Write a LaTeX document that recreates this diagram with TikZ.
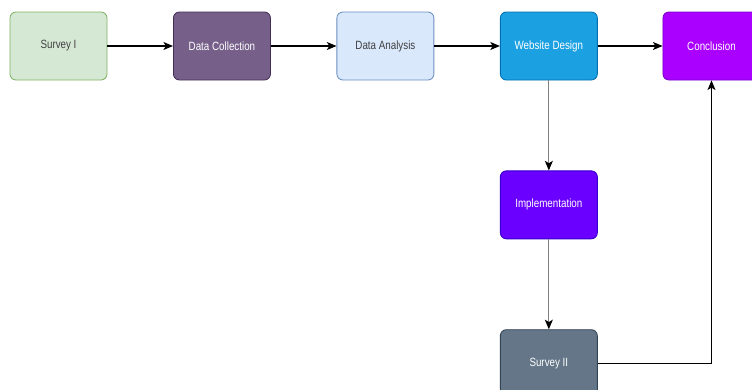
\documentclass[tikz,border=0pt]{standalone}
\usepackage{fontspec}
\setmainfont[FakeStretch=0.82]{Liberation Sans}
\usepackage{xcolor}
\usepackage{tikz}
\usetikzlibrary{shapes.geometric, arrows.meta, positioning, calc}
\definecolor{greenfill}{HTML}{D5E8D4}
\definecolor{greenline}{HTML}{82B366}
\definecolor{purplefill}{HTML}{76608A}
\definecolor{purpleline}{HTML}{432D57}
\definecolor{bluefill}{HTML}{DAE8FC}
\definecolor{blueline}{HTML}{6C8EBF}
\definecolor{cyanfill}{HTML}{1BA1E2}
\definecolor{cyanline}{HTML}{006EAF}
\definecolor{violetfill}{HTML}{AA00FF}
\definecolor{violetline}{HTML}{7700CC}
\definecolor{indigofill}{HTML}{6A00FF}
\definecolor{indigoline}{HTML}{3700CC}
\definecolor{slatefill}{HTML}{647687}
\definecolor{slateline}{HTML}{314354}
\tikzstyle{stage} = [rectangle, rounded corners=0.15cm, minimum width=2.425cm, minimum height=1.7cm, text centered, font=\fontsize{8.5}{10}\selectfont, line width=0.6pt]
\tikzstyle{arrow} = [line width=0.8pt, -{Stealth[length=2.4mm, width=2mm, inset=0.6mm, black]}]

\begin{document}
\begin{tikzpicture}
    \useasboundingbox (0,0) rectangle (18.8,-9.725);
    % Main row
    \node[stage, draw=greenline, fill=greenfill, text=black!75] (survey1) at (1.4625,-1.15) {Survey I};
    \node[stage, draw=purpleline, fill=purplefill, text=white, right=1.64cm of survey1] (collection) {Data Collection};
    \node[stage, draw=blueline, fill=bluefill, text=black!75, right=1.64cm of collection] (analysis) {Data Analysis};
    \node[stage, draw=cyanline, fill=cyanfill, text=white, right=1.64cm of analysis] (design) {Website Design};
    \node[stage, draw=violetline, fill=violetfill, text=white, right=1.62cm of design] (conclusion) {Conclusion};
    
    % Lower column
    \node[stage, draw=indigoline, fill=indigofill, text=white, below=2.25cm of design] (implementation) {Implementation};
    \node[stage, draw=slateline, fill=slatefill, text=white, below=2.25cm of implementation] (survey2) {Survey II};
    
    % Connections
    \draw[arrow] (survey1) -- (collection);
    \draw[arrow] (collection) -- (analysis);
    \draw[arrow] (analysis) -- (design);
    \draw[arrow] (design) -- (conclusion);
    \draw[arrow, draw=black!50] (design) -- (implementation);
    \draw[arrow, draw=black!50] (implementation) -- (survey2);
    \draw[arrow, line width=0.6pt] (survey2.east) -| (conclusion.south);
    
\end{tikzpicture}
\end{document}
